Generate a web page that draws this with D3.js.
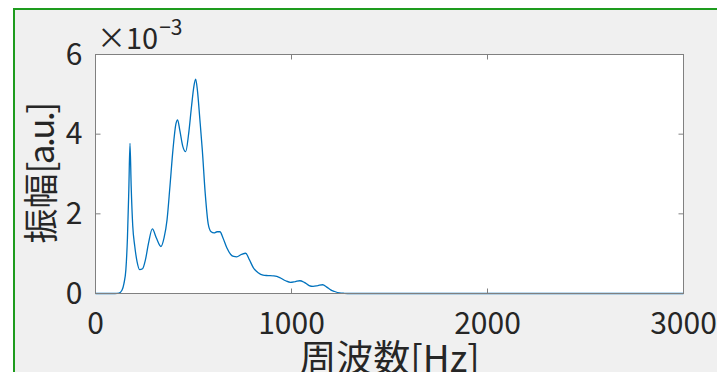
<!DOCTYPE html>
<html>
<head>
<meta charset="utf-8">
<script src="https://cdn.jsdelivr.net/npm/d3@7"></script>
<style>
  body { margin: 0; background: #fff; }
  svg { display: block; }
  text { font-family: "Noto Sans CJK JP", "Noto Sans", sans-serif; fill: #262626; }
</style>
</head>
<body>
<div id="chart"></div>
<script>
var width = 717,
    height = 372;

// spectrum (amplitude in units of 1e-3)
var freq = [0, 100, 120, 135, 145, 155, 163, 170, 176, 182, 190, 200, 212, 225, 240, 255, 270, 290, 310, 334,
            350, 365, 380, 395, 410, 419, 430, 445, 460, 475, 490, 502, 511, 520, 532, 545, 560, 575, 590, 605,
            620, 635, 650, 670, 690, 705, 720, 745, 766, 785, 805, 830, 855, 880, 910, 940, 970, 995, 1020, 1043,
            1065, 1090, 1110, 1135, 1159, 1180, 1200, 1220, 1245, 1270, 1300, 1400, 3000];
var amp = [0, 0, 0.01, 0.08, 0.25, 0.6, 1.4, 2.6, 3.77, 2.7, 1.7, 1.2, 0.8, 0.6, 0.62, 0.85, 1.25, 1.62, 1.4, 1.18,
           1.4, 1.85, 2.7, 3.6, 4.25, 4.36, 4.1, 3.7, 3.56, 4.0, 4.7, 5.2, 5.38, 5.1, 4.4, 3.6, 2.5, 1.75, 1.55, 1.52,
           1.55, 1.55, 1.4, 1.15, 0.98, 0.93, 0.92, 0.98, 1.01, 0.85, 0.65, 0.52, 0.46, 0.45, 0.44, 0.4, 0.32, 0.28, 0.3, 0.32,
           0.28, 0.2, 0.18, 0.2, 0.22, 0.16, 0.09, 0.05, 0.015, 0.005, 0, 0, 0];

var xTicks = [0, 1000, 2000, 3000];
var yTicks = [0, 2, 4, 6];

var svg = d3.select("#chart").append("svg")
    .attr("width", width)
    .attr("height", height);

// figure background with green frame
svg.append("rect")
    .attr("x", 14).attr("y", 9)
    .attr("width", width).attr("height", height)
    .attr("fill", "#f0f0f0")
    .attr("stroke", "#1e9c1e")
    .attr("stroke-width", 2);

var pLeft = 95.5, pRight = 683.5, pTop = 54.5, pBottom = 293.5;

var x = d3.scaleLinear().domain([0, 3000]).range([pLeft, pRight]);
var y = d3.scaleLinear().domain([0, 6]).range([pBottom, pTop]);

svg.append("rect")
    .attr("x", pLeft).attr("y", pTop)
    .attr("width", pRight - pLeft).attr("height", pBottom - pTop)
    .attr("fill", "#fff");

var data = freq.map(function(f, i) { return [f, amp[i]]; });

var line = d3.line()
    .x(function(d) { return x(d[0]); })
    .y(function(d) { return y(d[1]); })
    .curve(d3.curveMonotoneX);

svg.append("path")
    .datum(data)
    .attr("d", line)
    .attr("fill", "none")
    .attr("stroke", "#0072bd")
    .attr("stroke-width", 1.3);

// axes, ticks inside, box on
var axisColor = "#808080";
var tl = 5;

svg.append("rect")
    .attr("x", pLeft).attr("y", pTop)
    .attr("width", pRight - pLeft).attr("height", pBottom - pTop)
    .attr("fill", "none")
    .attr("stroke", axisColor)
    .attr("stroke-width", 1);

var ticks = svg.append("g").attr("stroke", axisColor).attr("stroke-width", 1);
xTicks.forEach(function(t) {
  ticks.append("line").attr("x1", x(t)).attr("x2", x(t)).attr("y1", pBottom).attr("y2", pBottom - tl);
  ticks.append("line").attr("x1", x(t)).attr("x2", x(t)).attr("y1", pTop).attr("y2", pTop + tl);
});
yTicks.forEach(function(t) {
  ticks.append("line").attr("x1", pLeft).attr("x2", pLeft + tl).attr("y1", y(t)).attr("y2", y(t));
  ticks.append("line").attr("x1", pRight).attr("x2", pRight - tl).attr("y1", y(t)).attr("y2", y(t));
});

svg.selectAll(".xlab").data(xTicks).enter().append("text")
    .attr("x", function(d) { return x(d); })
    .attr("y", pBottom + 40)
    .attr("text-anchor", "middle")
    .attr("font-size", 30)
    .text(function(d) { return d; });

svg.selectAll(".ylab").data(yTicks).enter().append("text")
    .attr("x", pLeft - 13)
    .attr("y", function(d) { return y(d) + 10; })
    .attr("text-anchor", "end")
    .attr("font-size", 30)
    .text(function(d) { return d; });

// exponent label
var ex = svg.append("text")
    .attr("x", 97).attr("y", 49)
    .attr("font-size", 29);
ex.append("tspan").text("\u00d710");
ex.append("tspan").attr("font-size", 21).attr("dy", -14).attr("dx", 1).text("\u22123");

// axis titles
svg.append("text")
    .attr("x", (pLeft + pRight) / 2)
    .attr("y", 372)
    .attr("text-anchor", "middle")
    .attr("font-size", 37)
    .text("周波数[Hz]");

var yt = svg.append("text")
    .attr("transform", "translate(54," + ((pTop + pBottom) / 2) + ") rotate(-90)")
    .attr("text-anchor", "middle")
    .attr("font-size", 35);
yt.append("tspan").text("振幅");
yt.append("tspan").attr("letter-spacing", -2.5).text("[a.u.]");
</script>
</body>
</html>
